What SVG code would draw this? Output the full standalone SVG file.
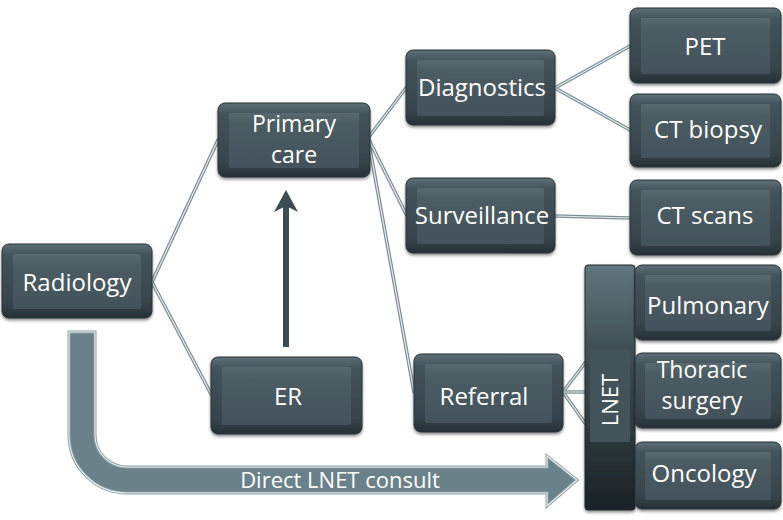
<svg xmlns="http://www.w3.org/2000/svg" width="783" height="520" viewBox="0 0 783 520">
<defs>
<linearGradient id="gOuter" x1="0" y1="0" x2="0" y2="1">
<stop offset="0" stop-color="#5e6f76"/>
<stop offset="0.15" stop-color="#43535b"/>
<stop offset="0.8" stop-color="#37444b"/>
<stop offset="1" stop-color="#263035"/>
</linearGradient>
<linearGradient id="gInner" x1="0" y1="0" x2="0" y2="1">
<stop offset="0" stop-color="#586970"/>
<stop offset="0.2" stop-color="#4c5c63"/>
<stop offset="1" stop-color="#44535b"/>
</linearGradient>
<linearGradient id="gBar" x1="0" y1="0" x2="0" y2="1">
<stop offset="0" stop-color="#62767d"/>
<stop offset="0.35" stop-color="#3f4e55"/>
<stop offset="1" stop-color="#1c2326"/>
</linearGradient>
<filter id="sh" x="-10%" y="-10%" width="120%" height="130%">
<feDropShadow dx="0" dy="2" stdDeviation="1.5" flood-color="#000" flood-opacity="0.45"/>
</filter>
</defs>
<style>
.outer{fill:url(#gOuter);stroke:#2a3439;stroke-width:1;filter:url(#sh)}
.inner{fill:url(#gInner)}
.t{font-family:"Open Sans","Noto Sans",sans-serif;font-size:24px;fill:#ffffff;text-anchor:middle}
.t2{font-size:23px}
.c1{fill:none;stroke:#7d9096;stroke-width:3.6;stroke-linecap:round}
.c2{fill:none;stroke:#e4eaec;stroke-width:1.2;stroke-linecap:round}
</style>
<rect width="783" height="520" fill="#ffffff"/>

<g id="connectors">
<g class="c1">
<line x1="152" y1="282" x2="218" y2="140"/>
<line x1="152" y1="282" x2="211" y2="394"/>
<line x1="368" y1="138" x2="406" y2="88"/>
<line x1="368" y1="138" x2="406" y2="214"/>
<line x1="368" y1="138" x2="414" y2="392"/>
<line x1="555" y1="88" x2="630" y2="46"/>
<line x1="555" y1="88" x2="630" y2="130"/>
<line x1="555" y1="216" x2="630" y2="218"/>
<line x1="563" y1="392" x2="585" y2="363"/>
<line x1="563" y1="392" x2="585" y2="392"/>
<line x1="563" y1="392" x2="585" y2="423"/>
</g>
<g class="c2">
<line x1="152" y1="282" x2="218" y2="140"/>
<line x1="152" y1="282" x2="211" y2="394"/>
<line x1="368" y1="138" x2="406" y2="88"/>
<line x1="368" y1="138" x2="406" y2="214"/>
<line x1="368" y1="138" x2="414" y2="392"/>
<line x1="555" y1="88" x2="630" y2="46"/>
<line x1="555" y1="88" x2="630" y2="130"/>
<line x1="555" y1="216" x2="630" y2="218"/>
<line x1="563" y1="392" x2="585" y2="363"/>
<line x1="563" y1="392" x2="585" y2="392"/>
<line x1="563" y1="392" x2="585" y2="423"/>
</g>
<g id="up-arrow" fill="#3e4c53">
<rect x="283" y="205" width="6" height="142"/>
<polygon points="286,190 298,212 286,206 274,212"/>
</g>
<g id="direct-arrow">
<path d="M69,332 H95 V435 A32,32 0 0 0 127,467 H547 V456 L577,480 L547,506 V493 H127 A58,58 0 0 1 69,435 Z" fill="#6b8189" stroke="#8c9ea3" stroke-width="3"/>
<path d="M69,332 H95 V435 A32,32 0 0 0 127,467 H547 V456 L577,480 L547,506 V493 H127 A58,58 0 0 1 69,435 Z" fill="none" stroke="#e6edef" stroke-width="1.1"/>
<text x="340" y="488" class="t" style="font-size:22px">Direct LNET consult</text>
</g>
</g>

<g id="radiology">
<rect class="outer" x="2" y="244" width="150" height="74" rx="7"/>
<rect class="inner" x="13" y="254" width="128" height="55" rx="2"/>
<text class="t" x="77" y="291">Radiology</text>
</g>
<g id="primary-care">
<rect class="outer" x="218" y="103" width="152" height="74" rx="7"/>
<rect class="inner" x="229" y="113" width="130" height="55" rx="2"/>
<text class="t t2" x="294" y="132">Primary</text>
<text class="t t2" x="294" y="163">care</text>
</g>
<g id="er">
<rect class="outer" x="211" y="357" width="151" height="77" rx="7"/>
<rect class="inner" x="222" y="367" width="129" height="58" rx="2"/>
<text class="t" x="288" y="405">ER</text>
</g>
<g id="diagnostics">
<rect class="outer" x="406" y="50" width="149" height="75" rx="7"/>
<rect class="inner" x="417" y="60" width="127" height="56" rx="2"/>
<text class="t" x="482" y="96">Diagnostics</text>
</g>
<g id="surveillance">
<rect class="outer" x="406" y="178" width="149" height="75" rx="7"/>
<rect class="inner" x="417" y="188" width="127" height="56" rx="2"/>
<text class="t" x="482" y="224">Surveillance</text>
</g>
<g id="referral">
<rect class="outer" x="414" y="354" width="149" height="78" rx="7"/>
<rect class="inner" x="425" y="364" width="127" height="59" rx="2"/>
<text class="t" x="484" y="405">Referral</text>
</g>
<g id="pet">
<rect class="outer" x="630" y="8" width="151" height="75" rx="7"/>
<rect class="inner" x="641" y="18" width="129" height="56" rx="2"/>
<text class="t" x="705" y="55">PET</text>
</g>
<g id="ct-biopsy">
<rect class="outer" x="630" y="94" width="151" height="73" rx="7"/>
<rect class="inner" x="641" y="104" width="129" height="54" rx="2"/>
<text class="t" x="708" y="138">CT biopsy</text>
</g>
<g id="ct-scans">
<rect class="outer" x="630" y="180" width="151" height="75" rx="7"/>
<rect class="inner" x="641" y="190" width="129" height="56" rx="2"/>
<text class="t" x="705" y="224">CT scans</text>
</g>
<g id="lnet">
<rect x="585" y="265" width="50" height="245" rx="3" fill="url(#gBar)" stroke="#1f282c" stroke-width="1" filter="url(#sh)"/>
<rect x="590" y="350" width="40" height="92" fill="#43535a"/>
<text class="t" x="0" y="0" style="font-size:22px" transform="translate(618,400) rotate(-90)">LNET</text>
</g>
<g id="pulmonary">
<rect class="outer" x="635" y="265" width="146" height="75" rx="7"/>
<rect class="inner" x="645" y="275" width="126" height="56" rx="2"/>
<text class="t" x="708" y="314">Pulmonary</text>
</g>
<g id="thoracic-surgery">
<rect class="outer" x="635" y="353" width="146" height="75" rx="7"/>
<rect class="inner" x="645" y="363" width="126" height="56" rx="2"/>
<text class="t t2" x="702" y="378">Thoracic</text>
<text class="t t2" x="702" y="409">surgery</text>
</g>
<g id="oncology">
<rect class="outer" x="635" y="442" width="146" height="67" rx="7"/>
<rect class="inner" x="645" y="452" width="126" height="48" rx="2"/>
<text class="t" x="704" y="482">Oncology</text>
</g>
</svg>
